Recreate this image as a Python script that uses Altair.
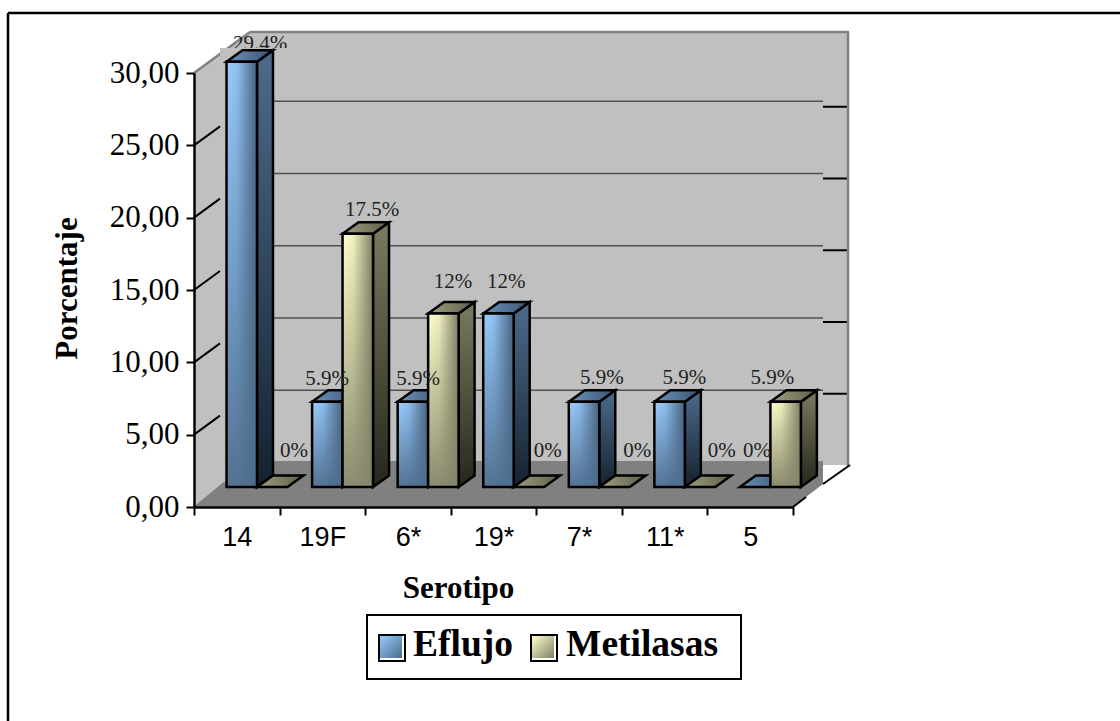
import altair as alt
import pandas as pd

categories = ["14", "19F", "6*", "19*", "7*", "11*", "5"]
series_names = ["Eflujo", "Metilasas"]
eflujo = [29.4, 5.9, 5.9, 12, 5.9, 5.9, 0]
metilasas = [0, 17.5, 12, 0, 0, 0, 5.9]
label_text = {
    "Eflujo": ["29.4%", "5.9%", "5.9%", "12%", "5.9%", "5.9%", "0%"],
    "Metilasas": ["0%", "17.5%", "12%", "0%", "0%", "0%", "5.9%"],
}
y_ticks = [0, 5, 10, 15, 20, 25, 30]

# Layout of the plot box on the page, in pixels
LEFT, TOP, PLOT_W, PLOT_H = 194, 73, 599, 434
FONT_SERIF = "Liberation Serif"
FONT_SANS = "Liberation Sans"


def ux(px):
    """Page pixel column to category units."""
    return (px - LEFT) / (PLOT_W / 7)


def uy(py):
    """Page pixel row to percentage units."""
    return (TOP + PLOT_H - py) / (PLOT_H / 30)


X_SCALE = alt.Scale(domain=[0, 7], nice=False, zero=False)
Y_SCALE = alt.Scale(domain=[0, 30], nice=False, zero=False)

X_AXIS = alt.Axis(
    values=list(range(8)),
    title="Serotipo",
    titleFont=FONT_SERIF,
    titleFontSize=31,
    titleFontWeight="bold",
    titleColor="#000000",
    titleX=264,
    titleY=90,
    titleAlign="center",
    titleBaseline="alphabetic",
    labelExpr="[" + ",".join(f"'{c}'" for c in categories) + "][datum.value] || ''",
    labelOffset=42.8,
    labelFont=FONT_SANS,
    labelFontSize=27,
    labelColor="#000000",
    labelPadding=9,
    labelFlush=False,
    labelOverlap=False,
    labelBound=False,
    tickSize=8,
    tickWidth=2,
    tickColor="#000000",
    domainColor="#000000",
    domainWidth=2.5,
    grid=False,
    zindex=1,
)
Y_AXIS = alt.Axis(
    values=y_ticks,
    title="Porcentaje",
    titleFont=FONT_SERIF,
    titleFontSize=31,
    titleFontWeight="bold",
    titleColor="#000000",
    titleX=-118,
    titleY=215,
    titleAngle=270,
    titleAlign="center",
    titleBaseline="alphabetic",
    labelExpr="replace(format(datum.value, '.2f'), '.', ',')",
    labelFont=FONT_SERIF,
    labelFontSize=31,
    labelColor="#000000",
    labelPadding=7,
    labelOverlap=False,
    labelBound=False,
    labelFlush=False,
    tickSize=8,
    tickWidth=2,
    tickColor="#000000",
    domainColor="#000000",
    domainWidth=2.5,
    grid=False,
    zindex=1,
)
X_PLAIN = alt.X("x:Q", scale=X_SCALE, axis=X_AXIS)
Y_PLAIN = alt.Y("y:Q", scale=Y_SCALE, axis=Y_AXIS, stack=False)

# Bar geometry in axis units
BAR_START, BAR_W = 0.38, 0.356
BAR_BASE = uy(487)
DEPTH_X, DEPTH_Y = 16 / (PLOT_W / 7), 11.5 / (PLOT_H / 30)


def gradient(stops, x2=0, y2=0):
    n = len(stops)
    pairs = [s if isinstance(s, tuple) else (s, i / (n - 1)) for i, s in enumerate(stops)]
    return alt.LinearGradient(
        gradient="linear",
        x1=0, y1=0, x2=x2, y2=y2,
        stops=[alt.GradientStop(color=c, offset=o) for c, o in pairs],
    )


STYLE = {
    "Eflujo": {
        "front": gradient([("#9ccdff", 0), ("#8fbfef", 0.35), ("#46607c", 1)], x2=1),
        "veil": gradient(["rgba(79,110,142,0)", "rgba(79,110,142,0.95)"], y2=1),
        "side": gradient(["#4d6b8c", "#15222e"], y2=1),
        "top": gradient(["#6c92bd", "#3a5470"], x2=1),
        "swatch": gradient(["#99ccff", "#4a6a8a"], x2=1, y2=1),
    },
    "Metilasas": {
        "front": gradient([("#ffffcc", 0), ("#f0f0c0", 0.35), ("#7d7d62", 1)], x2=1),
        "veil": gradient(["rgba(133,133,106,0)", "rgba(133,133,106,0.95)"], y2=1),
        "side": gradient(["#7b7b5e", "#26261c"], y2=1),
        "top": gradient(["#9e9e7e", "#5f5f4a"], x2=1),
        "swatch": gradient(["#ffffcc", "#808068"], x2=1, y2=1),
    },
}


def polygon_rows(columns):
    """Rows for an area polygon: (column px, lower edge px, upper edge px)."""
    return pd.DataFrame(
        [{"x": ux(c), "y": uy(lo), "y2": uy(hi)} for c, lo, hi in columns]
    )


def area_from_pixels(columns, fill):
    return (
        alt.Chart(polygon_rows(columns))
        .mark_area(fill=fill, clip=False, interpolate="linear")
        .encode(x=X_PLAIN, y=Y_PLAIN, y2="y2:Q")
    )


def rule_rows(rows, color, width):
    df = pd.DataFrame(rows, columns=["x", "y", "x2", "y2"])
    return (
        alt.Chart(df)
        .mark_rule(color=color, strokeWidth=width)
        .encode(x=X_PLAIN, y=Y_PLAIN, x2="x2:Q", y2="y2:Q")
    )


def pixel_rule(x1, y1, x2, y2, color, width):
    return rule_rows([(ux(x1), uy(y1), ux(x2), uy(y2))], color, width)


def bar_table(name, values):
    offset = series_names.index(name) * BAR_W
    return pd.DataFrame(
        {
            "id": [f"{name}-{c}" for c in categories],
            "left": [i + BAR_START + offset for i in range(len(values))],
            "value": values,
        }
    )


def bar_layers(name, values):
    tbl = bar_table(name, values)
    style = STYLE[name]
    side, top = [], []
    for r in tbl.itertuples():
        right = r.left + BAR_W
        upper = BAR_BASE + r.value
        if r.value > 0:
            side += [
                {"id": r.id, "x": right, "y": BAR_BASE, "y2": upper},
                {"id": r.id, "x": right + DEPTH_X, "y": BAR_BASE + DEPTH_Y, "y2": upper + DEPTH_Y},
            ]
        top += [
            {"id": r.id, "x": r.left, "y": upper, "y2": upper},
            {"id": r.id, "x": r.left + DEPTH_X, "y": upper, "y2": upper + DEPTH_Y},
            {"id": r.id, "x": right, "y": upper, "y2": upper + DEPTH_Y},
            {"id": r.id, "x": right + DEPTH_X, "y": upper + DEPTH_Y, "y2": upper + DEPTH_Y},
        ]
    edge = {"stroke": "#000000", "strokeWidth": 2.5, "strokeJoin": "miter"}
    layers = [
        alt.Chart(pd.DataFrame(side))
        .mark_area(fill=style["side"], **edge)
        .encode(x=X_PLAIN, y=Y_PLAIN, y2="y2:Q", detail="id:N"),
        alt.Chart(pd.DataFrame(top))
        .mark_area(fill=style["top"], **edge)
        .encode(x=X_PLAIN, y=Y_PLAIN, y2="y2:Q", detail="id:N"),
    ]
    fronts = tbl[tbl["value"] > 0].copy()
    fronts["x"] = fronts["left"]
    fronts["x2"] = fronts["left"] + BAR_W
    fronts["y"] = BAR_BASE
    fronts["y2"] = BAR_BASE + fronts["value"]
    enc = dict(x=X_PLAIN, x2="x2:Q", y=Y_PLAIN, y2="y2:Q", detail="id:N")
    layers.append(alt.Chart(fronts).mark_rect(fill=style["front"]).encode(**enc))
    layers.append(alt.Chart(fronts).mark_rect(fill=style["veil"], **edge).encode(**enc))
    return layers


# Hand placement of each value label: px right of the bar's left edge, px above its top
LABEL_NUDGE = {
    "Eflujo": [(33.5, 11.7), (15, 17), (20.5, 17), (23, 25.5), (33, 18), (30, 18), (17, 30)],
    "Metilasas": [(37, 30), (29.5, 18), (25, 25.5), (34, 30), (38, 30), (37, 30), (2, 18)],
}


def label_table():
    rows = []
    for name, values in zip(series_names, [eflujo, metilasas]):
        tbl = bar_table(name, values)
        for r, text, (dx, dy) in zip(tbl.itertuples(), label_text[name], LABEL_NUDGE[name]):
            rows.append(
                {
                    "x": r.left + dx / (PLOT_W / 7),
                    "y": BAR_BASE + r.value + dy / (PLOT_H / 30),
                    "text": text,
                }
            )
    return pd.DataFrame(rows)


def label_layer(df):
    return (
        alt.Chart(df)
        .mark_text(font=FONT_SERIF, fontSize=21, color="#222222", align="center", baseline="alphabetic")
        .encode(x=X_PLAIN, y=Y_PLAIN, text="text:N")
    )


labels = label_table()
clipped_label = labels[labels["text"] == "29.4%"]
other_labels = labels[labels["text"] != "29.4%"]

# Walls and floor of the box behind the bars
left_wall = area_from_pixels([(194, 507, 73), (250, 465, 32)], "#c0c0c0")
back_wall = area_from_pixels([(250, 465, 32), (848, 465, 32)], "#c0c0c0")
floor = area_from_pixels(
    [(194, 507, 507), (250, 507, 461), (793, 507, 461), (823, 484, 461)], "#808080"
)

grid_values = [5, 10, 15, 20, 25]
grid = rule_rows(
    [(ux(250), uy(462.5 - v * 14.45), ux(823), uy(462.5 - v * 14.45)) for v in grid_values],
    "#505050", 1.3,
)
right_ticks = rule_rows(
    [(ux(823), uy(465.5 - v * 14.35), ux(848), uy(465.5 - v * 14.35)) for v in grid_values],
    "#000000", 2,
)
wall_slants = rule_rows(
    [(0, v, ux(220), v + 19 / (PLOT_H / 30)) for v in grid_values], "#000000", 2
)

borders = [
    pixel_rule(250, 32, 849, 32, "#808080", 2.5),
    pixel_rule(848, 32, 848, 466, "#808080", 2.5),
    pixel_rule(194, 73, 250, 32, "#808080", 2.5),
    pixel_rule(195, 507, 224, 483, "#808080", 2),
    pixel_rule(793, 507, 806, 497, "#000000", 2),
    pixel_rule(823, 484, 850, 465, "#000000", 2),
]

label_mask = area_from_pixels([(220, 56, 48), (290, 56, 48)], "#c0c0c0")


def page_x(px):
    return alt.value(px - LEFT)


def page_y(py):
    return alt.value(py - TOP)


def page_rect(x1, y1, x2, y2, **mark):
    return (
        alt.Chart(pd.DataFrame({"a": [0]}))
        .mark_rect(**mark)
        .encode(x=page_x(x1), x2=page_x(x2), y=page_y(y1), y2=page_y(y2))
    )


def page_text(px, py, text, **mark):
    return (
        alt.Chart(pd.DataFrame({"a": [0]}))
        .mark_text(text=text, **mark)
        .encode(x=page_x(px), y=page_y(py))
    )


def page_line(x1, y1, x2, y2):
    return (
        alt.Chart(pd.DataFrame({"a": [0]}))
        .mark_rule(color="#000000", strokeWidth=2.5)
        .encode(x=page_x(x1), x2=page_x(x2), y=page_y(y1), y2=page_y(y2))
    )


legend_font = dict(
    font=FONT_SERIF, fontSize=37.5, fontWeight="bold", color="#000000",
    align="left", baseline="alphabetic",
)
legend = [
    page_rect(367, 615, 741, 679, fill="#ffffff", stroke="#000000", strokeWidth=2),
    page_rect(379, 635, 405, 661, fill="#ffffff", stroke="#000000", strokeWidth=2),
    page_rect(380, 636, 402, 658, fill=STYLE["Eflujo"]["swatch"]),
    page_text(413, 656, series_names[0], **legend_font),
    page_rect(531, 635, 557, 661, fill="#ffffff", stroke="#000000", strokeWidth=2),
    page_rect(532, 636, 554, 658, fill=STYLE["Metilasas"]["swatch"]),
    page_text(566, 656, series_names[1], **legend_font),
]

frame = [page_line(8, 13, 1120, 13), page_line(8, 13, 8, 721)]

chart = alt.layer(
    left_wall,
    back_wall,
    floor,
    grid,
    wall_slants,
    right_ticks,
    *borders,
    label_layer(clipped_label),
    label_mask,
    *bar_layers("Eflujo", eflujo),
    *bar_layers("Metilasas", metilasas),
    label_layer(other_labels),
    *legend,
    *frame,
).properties(
    width=PLOT_W,
    height=PLOT_H,
    autosize=alt.AutoSizeParams(type="none"),
    padding={"left": LEFT, "top": TOP, "right": 1120 - LEFT - PLOT_W, "bottom": 721 - TOP - PLOT_H},
    background="#ffffff",
).configure_view(stroke=None)

chart.save("out.html", embed_options={"renderer": "svg", "actions": False})
